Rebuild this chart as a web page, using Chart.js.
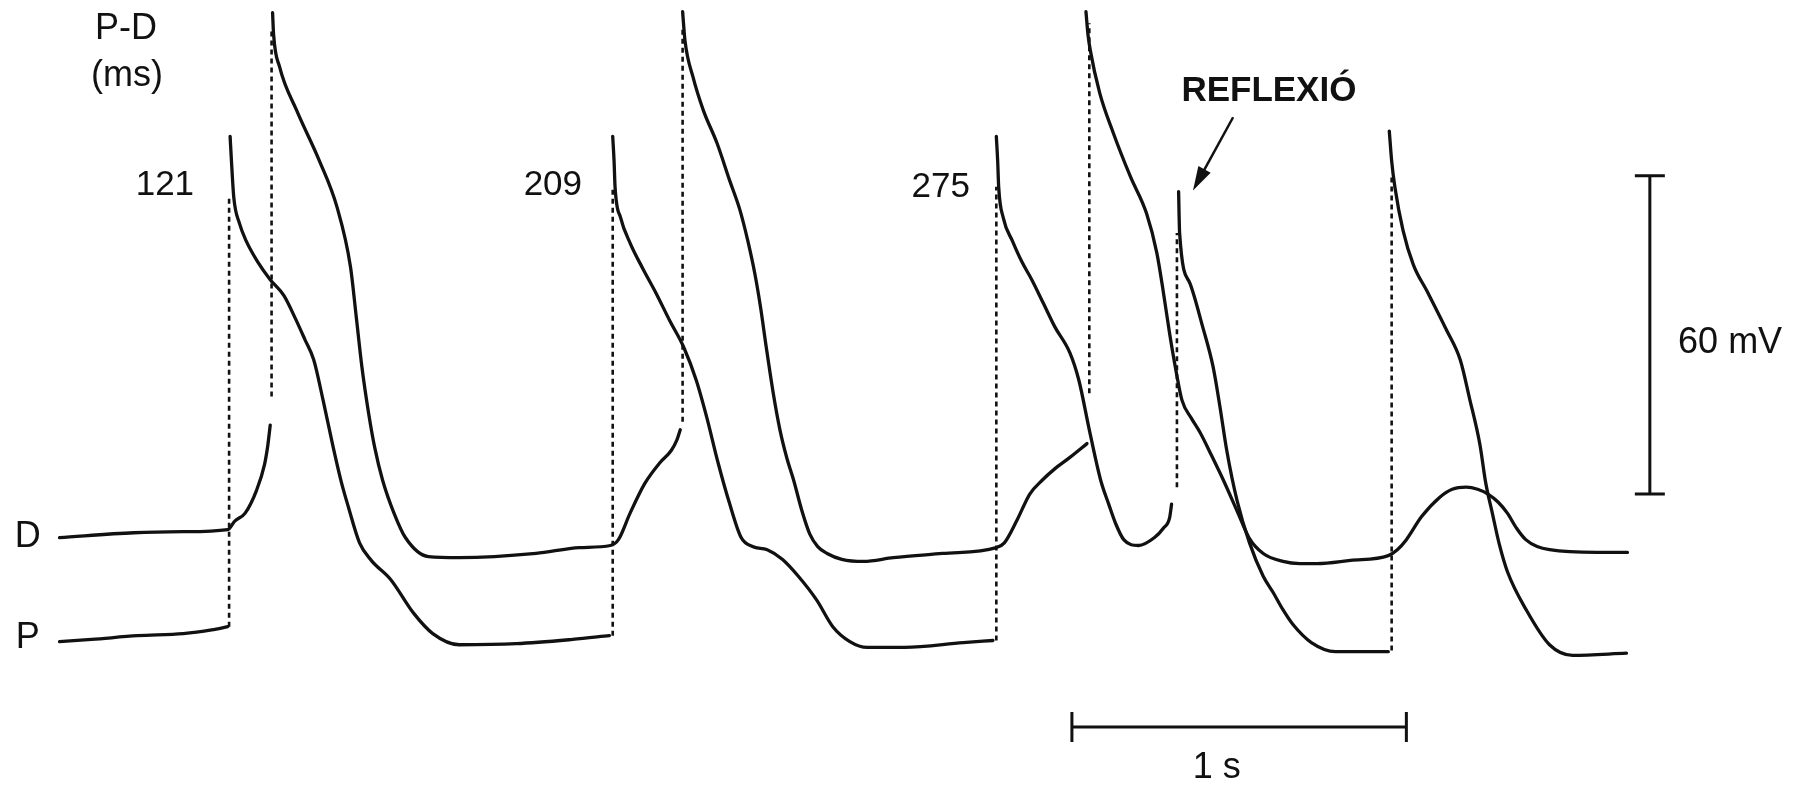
<!DOCTYPE html>
<html>
<head>
<meta charset="utf-8">
<title>P-D reflexió</title>
<script src="https://cdn.jsdelivr.net/npm/chart.js@4.4.1/dist/chart.umd.min.js"></script>
<style>
  html, body { margin: 0; padding: 0; background: #fff; }
  #wrap { width: 1796px; height: 788px; position: relative; }
</style>
</head>
<body>
<div id="wrap"><canvas id="traces"></canvas></div>
<script>
// time in ms, potential in mV; the D trace sits ~20 mV above P on the same axis
// P (proximal) trace, one array per solid piece
const pRest0 = [[0,0],[96,0.4],[233,1.1],[370,1.5],[455,2.2],[503,2.8]];
const pBeat1 = [[510,95.2],[514,90.6],[521,83.7],[538,78.8],[558,75.5],[592,71.6],[630,68.2],[671,65.2],[705,60.9],[733,57.0],[760,53.1],[788,45.5],[818,36.7],[842,30.2],[863,25.5],[897,18.6],[932,15.3],[990,11.7],[1058,5.4],[1116,1.5],[1195,-0.6],[1366,-0.4],[1534,0.4],[1644,1.1]];
const pBeat2 = [[1654,95.2],[1658,90.6],[1661,85.7],[1678,79.8],[1706,75.1],[1743,70.4],[1784,65.6],[1825,60.4],[1866,55.5],[1904,49.2],[1935,42.3],[1969,33.7],[2003,26.1],[2038,19.6],[2072,17.9],[2116,17.3],[2161,15.5],[2209,12.3],[2264,7.8],[2312,2.8],[2363,0],[2415,-1.1],[2527,-1.1],[2702,-0.2],[2791,0.2]];
const pBeat3 = [[2801,95.2],[2805,90.6],[2808,85.7],[2822,79.8],[2849,75.5],[2877,71.6],[2907,68.2],[2942,63.7],[2976,59.3],[3021,54.4],[3048,49.2],[3079,39.9],[3113,30.4],[3137,25.9],[3158,22.2],[3182,19.2],[3226,18.1],[3274,19.6],[3301,21.4],[3319,23.3],[3325,25.9]];
const pReflex = [[3346,84.8],[3349,77.0],[3380,67.5],[3418,59.3],[3449,51.8],[3469,44.5],[3490,36.0],[3521,26.5],[3558,18.6],[3599,12.3],[3630,9.1],[3658,6.0],[3688,3.2],[3743,-0.2],[3815,-1.9],[3973,-1.9]];
const pBeat4 = [[3976,96.2],[3983,90.6],[3993,85.5],[4017,77.5],[4048,71.0],[4089,66.0],[4147,58.7],[4188,53.1],[4216,45.8],[4247,37.1],[4264,30.0],[4284,24.2],[4305,18.3],[4329,13.2],[4387,5.8],[4455,-0.6],[4524,-2.6],[4685,-2.2]];

// D (distal) trace
const dRest0 = [[0,19.6],[223,20.5],[370,20.7],[503,21.1],[524,22.7],[555,24.2],[589,28.5],[613,33.4],[623,37.1],[630,40.8]];
const dBeat1 = [[637,118.5],[640,114.4],[658,108.3],[709,100.1],[777,90.6],[829,82.0],[870,70.6],[887,61.3],[904,51.8],[925,42.7],[942,36.7],[966,30.4],[1000,24.2],[1034,19.6],[1103,16.0],[1195,15.8],[1425,16.6],[1555,17.7],[1647,18.1],[1671,19.2],[1706,24.2],[1750,29.8],[1795,33.7],[1829,36.0],[1846,38.0],[1856,39.9]];
const dBeat2 = [[1863,118.7],[1870,113.3],[1894,106.4],[1925,100.1],[1966,93.9],[2003,87.0],[2034,81.4],[2058,75.5],[2079,69.3],[2096,63.0],[2113,55.5],[2134,46.8],[2154,39.9],[2175,34.5],[2195,30.4],[2219,24.8],[2243,20.3],[2267,17.9],[2295,16.6],[2339,15.5],[2404,15.1],[2493,15.8],[2640,16.6],[2801,17.7],[2825,18.6],[2863,22.9],[2901,27.8],[2938,30.4],[2973,32.4],[3021,34.7],[3072,37.3]];
const dBeat3 = [[3069,118.7],[3075,114.4],[3082,111.4],[3110,103.4],[3151,95.8],[3202,87.6],[3250,80.7],[3281,73.2],[3301,65.6],[3319,58.1],[3336,51.8],[3356,45.5],[3384,42.1],[3411,39.3],[3445,35.0],[3480,30.4],[3521,24.6],[3558,19.4],[3599,16.6],[3658,15.1],[3709,14.7],[3760,14.7],[3860,15.3],[3973,16.2],[4000,17.3],[4027,19.2],[4072,23.5],[4127,27.2],[4164,28.7],[4206,29.1],[4240,28.7],[4271,27.8],[4301,26.3],[4329,24.2],[4356,21.4],[4384,19.2],[4418,17.9],[4455,17.3],[4596,16.8],[4688,16.8]];

// dotted upstroke joins: [t, from mV, to mV]
const pJumps = [[507,2.8,84.0],[1654,1.1,85.7],[2801,0.2,85.7],[3341,29.1,77.0],[3983,-1.7,87.6]];
const dJumps = [[634,46.2,115.5],[1863,41.4,115.5],[3079,46.8,116.5]];

// measured P-D delays (ms)
const pdDelays = ['121', '209', '275'];

// calibration bars
const SCALE_MS = 1000;
const SCALE_MV = 60;

const INK = '#111';
const FONT = '"Liberation Sans", Arial, sans-serif';

class TraceFigure {
    constructor(canvasId) {
        this.canvas = document.getElementById(canvasId);
        this.labels = [
            { text: 'P-D', t: 199, v: 115.5, size: 36 },
            { text: '(ms)', t: 202, v: 106.6, size: 36 },
            { text: pdDelays[0], t: 315, v: 86.0, size: 35 },
            { text: pdDelays[1], t: 1475, v: 86.0, size: 35 },
            { text: pdDelays[2], t: 2635, v: 85.6, size: 35 },
            { text: 'REFLEXIÓ', t: 3616, v: 103.7, size: 35, bold: true },
            { text: '60 mV', t: 4995, v: 56.3, size: 36 },
            { text: '1 s', t: 3460, v: -23.8, size: 36 },
            { text: 'D', t: -95, v: 19.7, size: 36 },
            { text: 'P', t: -95, v: 0.6, size: 36 }
        ];
        this.arrow = { from: [3509, 98.8], to: [3389, 85.0] };
        this.timeBar = { t: 3027, v: -16.1 };
        this.voltBar = { t: 4755, v: 27.8 };
        this.init();
    }

    init() {
        const solid = [pRest0, pBeat1, pBeat2, pBeat3, pReflex, pBeat4,
                       dRest0, dBeat1, dBeat2, dBeat3];
        const datasets = solid.map(seg => ({
            data: seg.map(([t, v]) => ({ x: t, y: v })),
            borderColor: INK,
            borderWidth: 3.3,
            cubicInterpolationMode: 'monotone',
            borderCapStyle: 'round',
            borderJoinStyle: 'round',
            pointRadius: 0
        }));

        // dotted joins from the resting line up to the action potential
        pJumps.concat(dJumps).forEach(([t, a, b]) => {
            datasets.push({
                data: [{ x: t, y: a }, { x: t, y: b }],
                borderColor: INK,
                borderWidth: 2.6,
                borderDash: [5, 4],
                pointRadius: 0
            });
        });

        this.chart = new Chart(this.canvas.getContext('2d'), {
            type: 'line',
            data: { datasets },
            options: {
                responsive: true,
                maintainAspectRatio: false,
                animation: false,
                layout: { padding: 0 },
                scales: {
                    x: { type: 'linear', display: false, min: -178, max: 5192 },
                    y: { type: 'linear', display: false, min: -27.6, max: 120.9 }
                },
                plugins: { legend: { display: false }, tooltip: { enabled: false } }
            },
            plugins: [{ id: 'overlay', afterDatasetsDraw: (c) => this.drawOverlay(c) }]
        });
    }

    drawOverlay(chart) {
        const { ctx, scales: { x, y } } = chart;
        const px = t => x.getPixelForValue(t);
        const py = v => y.getPixelForValue(v);
        ctx.save();
        ctx.strokeStyle = INK;
        ctx.fillStyle = INK;
        ctx.lineWidth = 3;

        // 1 s bar
        const hx0 = px(this.timeBar.t), hx1 = px(this.timeBar.t + SCALE_MS), hy = py(this.timeBar.v);
        ctx.beginPath();
        ctx.moveTo(hx0, hy); ctx.lineTo(hx1, hy);
        ctx.moveTo(hx0, hy - 15); ctx.lineTo(hx0, hy + 15);
        ctx.moveTo(hx1, hy - 15); ctx.lineTo(hx1, hy + 15);
        ctx.stroke();

        // 60 mV bar
        const vx = px(this.voltBar.t), vy0 = py(this.voltBar.v), vy1 = py(this.voltBar.v + SCALE_MV);
        ctx.beginPath();
        ctx.moveTo(vx, vy0); ctx.lineTo(vx, vy1);
        ctx.moveTo(vx - 15, vy0); ctx.lineTo(vx + 15, vy0);
        ctx.moveTo(vx - 15, vy1); ctx.lineTo(vx + 15, vy1);
        ctx.stroke();

        // arrow to the reflected response
        const ax0 = px(this.arrow.from[0]), ay0 = py(this.arrow.from[1]);
        const ax1 = px(this.arrow.to[0]), ay1 = py(this.arrow.to[1]);
        const ang = Math.atan2(ay1 - ay0, ax1 - ax0);
        ctx.lineWidth = 2.5;
        ctx.beginPath();
        ctx.moveTo(ax0, ay0);
        ctx.lineTo(ax1 - 18 * Math.cos(ang), ay1 - 18 * Math.sin(ang));
        ctx.stroke();
        ctx.beginPath();
        ctx.moveTo(ax1, ay1);
        ctx.lineTo(ax1 - 24 * Math.cos(ang) + 7 * Math.sin(ang), ay1 - 24 * Math.sin(ang) - 7 * Math.cos(ang));
        ctx.lineTo(ax1 - 24 * Math.cos(ang) - 7 * Math.sin(ang), ay1 - 24 * Math.sin(ang) + 7 * Math.cos(ang));
        ctx.closePath();
        ctx.fill();

        // text
        ctx.textAlign = 'center';
        ctx.textBaseline = 'middle';
        this.labels.forEach(l => {
            ctx.font = `${l.bold ? 'bold ' : ''}${l.size}px ${FONT}`;
            ctx.fillText(l.text, px(l.t), py(l.v));
        });
        ctx.restore();
    }
}

const figure = new TraceFigure('traces');
</script>
</body>
</html>
